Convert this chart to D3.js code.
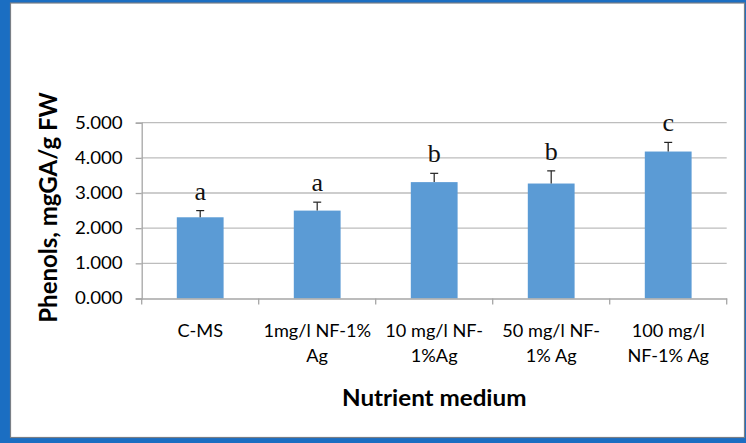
<!DOCTYPE html>
<html>
<head>
<meta charset="utf-8">
<script src="https://cdn.jsdelivr.net/npm/d3@7"></script>
<style>
  html, body { margin: 0; padding: 0; background: #1b6ec2; }
  svg { display: block; }
</style>
</head>
<body>
<svg id="chart" width="746" height="443"></svg>
<script>
// ---- data ----
const categories = ["C-MS", "1mg/l NF-1% Ag", "10 mg/l NF-1%Ag", "50 mg/l NF-1% Ag", "100 mg/l NF-1% Ag"];
const categoryLines = [["C-MS"], ["1mg/l NF-1%", "Ag"], ["10 mg/l NF-", "1%Ag"], ["50 mg/l NF-", "1% Ag"], ["100 mg/l", "NF-1% Ag"]];
const values = [2.31, 2.50, 3.31, 3.27, 4.18];
const errors = [0.19, 0.24, 0.25, 0.36, 0.26];
const letters = ["a", "a", "b", "b", "c"];
const yTicks = [0, 1, 2, 3, 4, 5];
const yTitle = "Phenols, mgGA/g FW";
const xTitle = "Nutrient medium";

(function () {
const W = 746, H = 443;
const SX = 1.1; // horizontal stretch of text seen in the reference
const svg = d3.select("#chart");
const sans = "Lato, 'Open Sans', sans-serif";

svg.append("rect").attr("x", 0).attr("y", 0).attr("width", W).attr("height", H).attr("fill", "#1b6ec2");
svg.append("rect").attr("x", 10.5).attr("y", 3).attr("width", 734).attr("height", 434.5)
  .attr("fill", "#ffffff").attr("stroke", "#7a7f86").attr("stroke-width", 1.2);

const pLeft = 141.7, pRight = 726.7, pTop = 122.7, pBottom = 298.5;

const xb = d3.scaleBand().domain(categories).range([pLeft, pRight]);
const y = d3.scaleLinear().domain([0, 5]).range([pBottom, pTop]);
const cxOf = i => xb(categories[i]) + xb.bandwidth() / 2;

// gridlines
svg.append("g").selectAll("line").data(yTicks.filter(d => d > 0)).join("line")
  .attr("x1", pLeft).attr("x2", pRight)
  .attr("y1", d => y(d)).attr("y2", d => y(d))
  .attr("stroke", "#bdbdbd").attr("stroke-width", 1.3);

// bars
svg.append("g").selectAll("rect").data(values).join("rect")
  .attr("x", (d, i) => xb(categories[i]) + xb.bandwidth() * 0.3)
  .attr("width", xb.bandwidth() * 0.4)
  .attr("y", d => y(d))
  .attr("height", d => y(0) - y(d))
  .attr("fill", "#5b9bd5");

// error bars (upper only)
const eg = svg.append("g").attr("stroke", "#222").attr("stroke-width", 1.2);
values.forEach((v, i) => {
  const cx = cxOf(i);
  eg.append("line").attr("x1", cx).attr("x2", cx).attr("y1", y(v)).attr("y2", y(v + errors[i]));
  eg.append("line").attr("x1", cx - 4).attr("x2", cx + 4).attr("y1", y(v + errors[i])).attr("y2", y(v + errors[i]));
});

// significance letters
svg.append("g").selectAll("text").data(letters).join("text")
  .attr("x", (d, i) => cxOf(i))
  .attr("y", (d, i) => y(values[i] + errors[i]) - 11)
  .attr("text-anchor", "middle")
  .attr("font-family", "'Liberation Serif', 'Times New Roman', serif")
  .attr("font-size", 26)
  .attr("fill", "#111")
  .text(d => d);

// y axis
const yAxis = svg.append("g").attr("transform", `translate(${pLeft},0)`)
  .call(d3.axisLeft(y).tickValues(yTicks).tickFormat(d3.format(".3f")).tickSizeOuter(0).tickSize(6).tickPadding(13));
yAxis.select(".domain").attr("stroke", "#a6a6a6").attr("stroke-width", 1.3);
yAxis.selectAll(".tick line").attr("stroke", "#a6a6a6").attr("stroke-width", 1.3);
yAxis.selectAll(".tick text")
  .attr("font-family", sans).attr("font-size", 17).attr("fill", "#000")
  .attr("x", -19 / SX)
  .attr("transform", `scale(${SX},1)`);

// x axis
const xAxis = svg.append("g").attr("transform", `translate(0,${pBottom})`)
  .call(d3.axisBottom(xb).tickSize(0).tickSizeOuter(0).tickFormat(""));
xAxis.select(".domain").attr("stroke", "#a6a6a6").attr("stroke-width", 1.3);
xAxis.selectAll(".tick").remove();
const bounds = categories.map(c => xb(c)).concat([pRight]);
xAxis.selectAll("line.sep").data(bounds).join("line").attr("class", "sep")
  .attr("x1", d => d).attr("x2", d => d).attr("y1", 0).attr("y2", 6)
  .attr("stroke", "#a6a6a6").attr("stroke-width", 1.3);

const labels = svg.append("g");
categoryLines.forEach((lines, i) => {
  const g = labels.append("g").attr("transform", `translate(${cxOf(i)},336.5) scale(${SX},1)`);
  lines.forEach((l, j) => {
    g.append("text")
      .attr("x", 0).attr("y", j * 26)
      .attr("text-anchor", "middle")
      .attr("font-family", sans)
      .attr("font-size", 16.5)
      .attr("fill", "#000")
      .text(l);
  });
});

// titles
svg.append("g").attr("transform", `translate(${(pLeft + pRight) / 2},406) scale(${SX},1)`)
  .append("text")
  .attr("text-anchor", "middle")
  .attr("font-family", sans)
  .attr("font-weight", "bold")
  .attr("font-size", 22)
  .attr("fill", "#000")
  .text(xTitle);

svg.append("text")
  .attr("transform", "translate(57,207.5) rotate(-90)")
  .attr("text-anchor", "middle")
  .attr("font-family", sans)
  .attr("font-weight", "bold")
  .attr("font-size", 24)
  .attr("fill", "#000")
  .text(yTitle);
})();
</script>
</body>
</html>
